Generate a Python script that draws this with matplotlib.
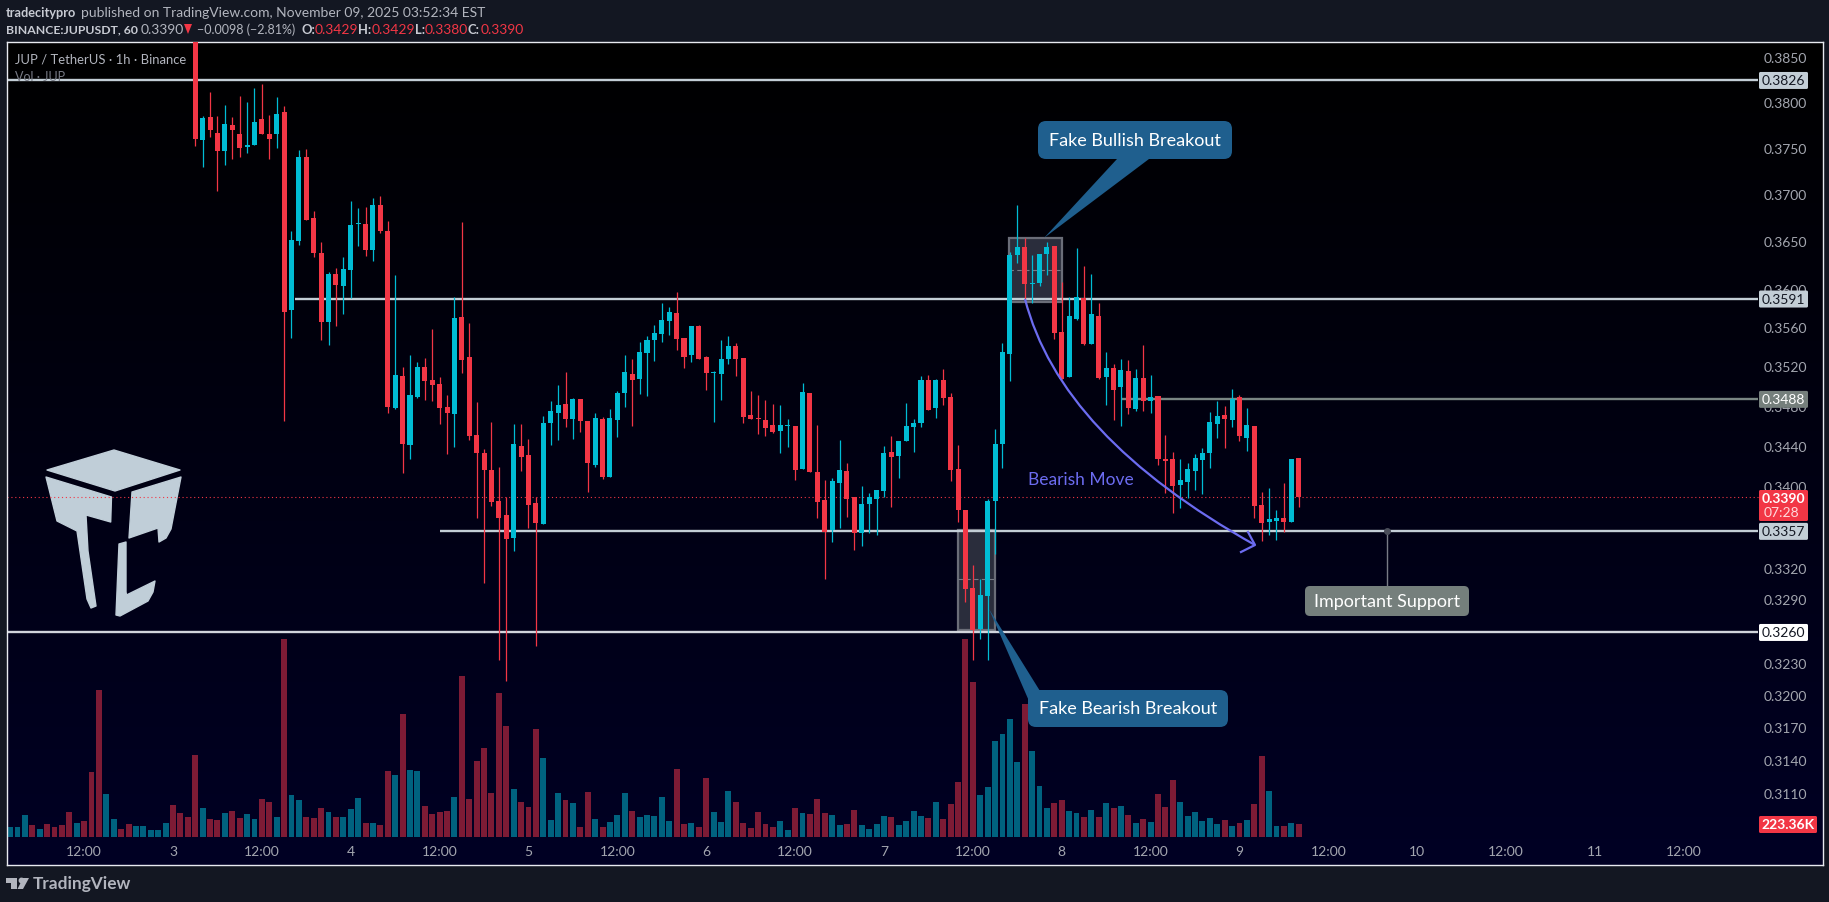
# filename: jup_chart.py
import numpy as np
import matplotlib
matplotlib.use("Agg")
import matplotlib.pyplot as plt
from matplotlib.colors import LinearSegmentedColormap
from matplotlib.patches import FancyBboxPatch, PathPatch, Polygon, Rectangle
from matplotlib.path import Path
from matplotlib.ticker import NullLocator

plt.rcParams['font.family'] = ['Lato', 'DejaVu Sans']

# candles, hourly, hour 0 is Nov 3 00:00
first_candle = 3
opens = [
    .3900, .3760, .3785, .3768, .3748, .3776, .3767, .3752, .3755, .3783,
    .3766, .3767, .3791, .3579, .3651, .3741, .3676, .3639, .3567, .3617,
    .3604, .3621, .3669, .3669, .3642, .3690, .3662, .3479, .3511, .3442,
    .3490, .3520, .3507, .3503, .3480, .3473, .3572, .3531, .3452, .3434,
    .3417, .3386, .3372, .3350, .3441, .3432, .3384, .3364, .3464, .3474,
    .3483, .3468, .3488, .3466, .3422, .3468, .3410, .3467, .3494, .3513,
    .3508, .3535, .3548, .3554, .3568, .3576, .3550, .3533, .3563, .3531,
    .3514, .3513, .3529, .3542, .3530, .3472, .3469, .3467, .3462, .3456,
    .3461, .3461, .3418, .3494, .3415, .3387, .3358, .3404, .3416, .3390,
    .3355, .3383, .3388, .3396, .3435, .3431, .3446, .3460, .3464, .3507,
    .3479, .3507, .3490, .3418, .3377, .3302, .3263, .3294, .3386, .3443,
    .3534, .3637, .3645, .3606, .3607, .3638, .3646, .3556, .3510, .3570,
    .3592, .3544, .3573, .3510, .3519, .3500, .3516, .3478, .3509, .3486,
    .3491, .3428, .3428, .3402, .3405, .3416, .3427, .3434, .3463, .3472,
    .3467, .3490, .3449, .3461, .3382, .3366, .3367, .3370, .3366, .3429,
]
highs = [
    .3900, .3786, .3813, .3786, .3798, .3785, .3808, .3802, .3817, .3822,
    .3787, .3807, .3797, .3662, .3749, .3750, .3683, .3650, .3619, .3623,
    .3635, .3694, .3687, .3688, .3697, .3699, .3673, .3616, .3520, .3533,
    .3525, .3530, .3559, .3510, .3492, .3593, .3672, .3566, .3485, .3438,
    .3465, .3420, .3390, .3463, .3463, .3448, .3390, .3471, .3486, .3502,
    .3515, .3489, .3488, .3466, .3474, .3470, .3478, .3496, .3533, .3529,
    .3546, .3552, .3564, .3586, .3582, .3598, .3550, .3563, .3564, .3532,
    .3516, .3548, .3552, .3545, .3530, .3496, .3492, .3487, .3483, .3482,
    .3468, .3461, .3504, .3494, .3462, .3407, .3409, .3447, .3424, .3390,
    .3401, .3394, .3397, .3441, .3451, .3446, .3484, .3468, .3511, .3512,
    .3508, .3518, .3494, .3442, .3377, .3324, .3310, .3388, .3458, .3545,
    .3640, .3690, .3655, .3637, .3638, .3650, .3646, .3608, .3593, .3644,
    .3625, .3617, .3586, .3536, .3523, .3529, .3528, .3518, .3543, .3512,
    .3491, .3452, .3435, .3428, .3424, .3433, .3439, .3475, .3486, .3481,
    .3498, .3492, .3479, .3461, .3395, .3399, .3377, .3404, .3428, .3429,
]
lows = [
    .3753, .3731, .3763, .3705, .3733, .3739, .3742, .3746, .3755, .3766,
    .3739, .3751, .3466, .3550, .3647, .3674, .3634, .3548, .3543, .3562,
    .3575, .3592, .3646, .3636, .3630, .3660, .3474, .3478, .3414, .3428,
    .3489, .3487, .3486, .3463, .3433, .3440, .3514, .3447, .3370, .3307,
    .3381, .3234, .3214, .3337, .3416, .3360, .3247, .3364, .3442, .3447,
    .3460, .3448, .3455, .3395, .3420, .3408, .3410, .3450, .3480, .3461,
    .3493, .3491, .3527, .3546, .3553, .3538, .3519, .3526, .3529, .3497,
    .3465, .3487, .3523, .3511, .3464, .3468, .3453, .3451, .3454, .3434,
    .3440, .3407, .3418, .3415, .3370, .3310, .3346, .3360, .3371, .3338,
    .3342, .3355, .3353, .3390, .3380, .3409, .3446, .3435, .3460, .3477,
    .3469, .3482, .3406, .3366, .3288, .3234, .3253, .3234, .3335, .3419,
    .3506, .3628, .3591, .3586, .3604, .3616, .3549, .3508, .3510, .3569,
    .3543, .3544, .3508, .3482, .3467, .3461, .3473, .3476, .3476, .3474,
    .3422, .3394, .3374, .3379, .3389, .3397, .3393, .3419, .3449, .3439,
    .3460, .3446, .3436, .3370, .3347, .3353, .3348, .3356, .3366, .3380,
]
closes = [
    .3761, .3784, .3771, .3748, .3777, .3771, .3751, .3755, .3780, .3766,
    .3761, .3788, .3577, .3653, .3742, .3674, .3639, .3567, .3617, .3605,
    .3622, .3668, .3670, .3642, .3690, .3662, .3480, .3512, .3443, .3492,
    .3520, .3506, .3502, .3479, .3474, .3571, .3528, .3451, .3434, .3417,
    .3385, .3370, .3349, .3443, .3430, .3382, .3365, .3464, .3476, .3482,
    .3468, .3488, .3466, .3424, .3469, .3410, .3469, .3494, .3515, .3507,
    .3536, .3548, .3555, .3569, .3577, .3549, .3531, .3563, .3529, .3514,
    .3515, .3529, .3542, .3529, .3470, .3468, .3468, .3459, .3455, .3462,
    .3462, .3417, .3495, .3415, .3385, .3356, .3406, .3417, .3388, .3355,
    .3383, .3390, .3397, .3434, .3430, .3446, .3461, .3464, .3507, .3477,
    .3507, .3489, .3417, .3377, .3301, .3262, .3295, .3386, .3443, .3536,
    .3637, .3645, .3606, .3607, .3638, .3645, .3555, .3508, .3573, .3593,
    .3544, .3575, .3509, .3519, .3497, .3517, .3479, .3509, .3486, .3490,
    .3428, .3426, .3401, .3407, .3418, .3429, .3434, .3465, .3471, .3468,
    .3488, .3451, .3462, .3381, .3365, .3369, .3370, .3366, .3428, .3390,
]

# volume in thousands, first bar is hour -22
first_volume = -22
volumes = [
    166, 166, 372, 200, 132, 218, 166, 200, 424, 235,
    269, 1112, 2521, 733, 304, 132, 218, 183, 183, 115,
    115, 235, 544, 407, 338, 1404, 493, 304, 287, 407,
    441, 321, 390, 304, 647, 596, 338, 3398, 716, 630,
    338, 321, 493, 424, 338, 338, 476, 665, 235, 235,
    200, 1129, 1060, 2109, 1146, 1129, 527, 390, 424, 441,
    682, 2762, 647, 1301, 1524, 751, 2470, 1902, 819, 596,
    510, 1851, 1352, 287, 751, 630, 579, 166, 768, 304,
    166, 252, 372, 751, 441, 338, 372, 355, 682, 269,
    1163, 218, 235, 166, 1008, 424, 252, 785, 596, 235,
    149, 424, 218, 166, 269, 115, 493, 407, 390, 647,
    407, 372, 200, 218, 458, 200, 132, 218, 355, 338,
    200, 269, 441, 355, 321, 596, 304, 562, 940, 3398,
    2659, 716, 854, 1645, 1765, 2023, 1284, 2281, 1473, 871,
    493, 579, 630, 441, 407, 338, 458, 338, 579, 493,
    527, 372, 235, 304, 252, 733, 510, 974, 596, 355,
    424, 269, 321, 218, 287, 183, 235, 287, 562, 1387,
    785, 183, 183, 235, 223.36,
]
# direction of the bars left of the first visible candle
early_volume_up = [
    1, 1, 1, 0, 1, 0, 0, 0, 0, 1, 0, 0, 0,
    1, 1, 0, 0, 1, 1, 1, 1, 1, 0, 0, 0,
]

# the 0.3600 and 0.3480 ticks sit partly under the tags, the tags are drawn later
price_ticks = [.3850, .3800, .3750, .3700, .3650, .3600, .3560, .3520, .3480, .3440,
               .3400, .3320, .3290, .3230, .3200, .3170, .3140, .3110]
time_ticks = [-12, 0, 12, 24, 36, 48, 60, 72, 84, 96, 108, 120, 132, 144, 156, 168, 180, 192, 204]
time_labels = ['12:00', '3', '12:00', '4', '12:00', '5', '12:00', '6', '12:00', '7',
               '12:00', '8', '12:00', '9', '12:00', '10', '12:00', '11', '12:00']

level_prices = [.3826, .3591, .3488, .3357, .3260]
level_starts = [-23, 16.5, 128, 36, -23]
level_colors = ['#c3ced6', '#c3ced6', '#7a8683', '#c3ced6', '#d1d4dc']
label_faces = ['#c3ced6', '#c3ced6', '#757f7c', '#c3ced6', '#ffffff']
label_texts = ['#131722', '#131722', '#ffffff', '#131722', '#131722']
last_price = .3390

RED = '#f23645'
CYAN = '#00bcd4'
GREY_TEXT = '#a3a6af'

# pane in pixels, and the px per hour of the time axis
left, right, top, bottom = 6.5, 1822.5, 43, 866
px_per_hour = 7.406
x_zero = 173
y_385 = 59.4  # pixel row of price 0.3850
levels_end = (1757.6 - x_zero) / px_per_hour

fig = plt.figure(figsize=(18.29, 9.03), dpi=100, facecolor='#131722')
pane = [left / 1829, 1 - bottom / 903, (right - left) / 1829, (bottom - top) / 903]

# background gradient and logo
ax_bg = fig.add_axes([0, 0, 1, 1], zorder=0)
ax_bg.set_xlim(0, 1829)
ax_bg.set_ylim(903, 0)
ax_bg.axis('off')
cmap = LinearSegmentedColormap.from_list('pane', ['#000000', '#000024'])
ax_bg.imshow(np.linspace(0, 1, 256).reshape(-1, 1), cmap=cmap, aspect='auto',
             extent=(left, right, bottom, top))
ax_bg.set_xlim(0, 1829)
ax_bg.set_ylim(903, 0)
logo = '#c0ced8'
ax_bg.add_patch(Polygon([(47, 471), (114, 451), (180, 471), (115, 492)], fc=logo, ec=logo, lw=1, joinstyle='round'))
ax_bg.add_patch(Polygon([(46, 478), (111.5, 498), (110.7, 523), (86, 516), (88, 552), (96, 607), (91, 609),
                         (87, 600), (77, 532), (57, 522)], fc=logo, ec=logo, lw=1, joinstyle='round'))
ax_bg.add_patch(Polygon([(181, 478), (132, 493), (129, 539), (158, 529), (159, 543), (166, 539), (171, 530)],
                        fc=logo, ec=logo, lw=1, joinstyle='round'))
ax_bg.add_patch(Polygon([(126, 543), (119, 545), (116, 616), (120, 617), (148, 602), (153, 593), (155, 582),
                         (126.5, 596), (126, 593)], fc=logo, ec=logo, lw=1, joinstyle='round'))

# volume
ax_vol = fig.add_axes(pane, zorder=1)
ax_vol.patch.set_visible(False)
ax_vol.axis('off')
k_per_px = 17.2
ax_vol.set_ylim(-(bottom - 838) * k_per_px, (838 - top) * k_per_px)
ax_vol.set_xlim((left - x_zero) / px_per_hour, (right - x_zero) / px_per_hour)
vol_hours = first_volume + np.arange(len(volumes))
candle_up = [c >= o for o, c in zip(opens, closes)]
vol_up = [bool(v) for v in early_volume_up] + candle_up
vol_colors = ['#00627f' if u else '#7d1b35' for u in vol_up]
ax_vol.bar(vol_hours, volumes, width=0.8, color=vol_colors, linewidth=0)

# price pane
ax = fig.add_axes(pane, zorder=2)
ax.patch.set_visible(False)
ax.set_yscale('log')
ax.set_xlim((left - x_zero) / px_per_hour, (right - x_zero) / px_per_hour)
ax.set_ylim(.385 * np.exp(-(bottom - y_385) / 3448), .385 * np.exp((y_385 - top) / 3448))
ax.yaxis.set_major_locator(NullLocator())
ax.yaxis.set_minor_locator(NullLocator())
ax.set_xticks([])
for s in ax.spines.values():
    s.set_color('#e8eaf0')
    s.set_linewidth(1)

# marked boxes go under the candles
for t0, t1, p0, p1 in [(112.9, 120, .3587, .3655), (106, 111, .3262, .3358)]:
    ax.add_patch(Rectangle((t0, p0), t1 - t0, p1 - p0, fc='#2a2d3c', ec='#6a6d78', lw=1.6, zorder=1))
    mid = (p0 + p1) / 2
    ax.hlines(mid, t0, t1, color='#787b86', lw=0.8, linestyles=(0, (4, 3)), zorder=1.5)

ax.hlines(level_prices, level_starts, levels_end, colors=level_colors, lw=1.7, zorder=2)
ax.hlines(last_price, ax.get_xlim()[0], levels_end, colors=RED, lw=0.8, linestyles=(0, (1, 2.5)), zorder=2)

# candles
hours = first_candle + np.arange(len(opens))
colors = [CYAN if u else RED for u in candle_up]
ax.vlines(hours, lows, highs, colors=colors, lw=0.9, zorder=3)
body_low = np.minimum(opens, closes)
body_high = np.maximum(opens, closes)
ax.bar(hours, body_high - body_low, bottom=body_low, width=0.68, color=colors, linewidth=0, zorder=4)

# price scale
ymap = ax.get_yaxis_transform()
xmap = ax.get_xaxis_transform()
label_x = (1785 - left) / (right - left)
for p in price_ticks:
    ax.text(label_x, p, f'{p:.4f}', transform=ymap, color=GREY_TEXT, fontsize=10, ha='center', va='center', zorder=5)


def price_box(price, text, face, color):
    """ Filled tag on the price scale, level with its line """
    height = 17
    y_px = y_385 + 3448 * np.log(.385 / price)
    y0 = y_px + 0.5 - height / 2
    ax_over.add_patch(FancyBboxPatch((1759, y0), 49, height, boxstyle='round,pad=0,rounding_size=1.5',
                                     fc=face, ec='none', zorder=6))
    ax_over.text(1783.5, y0 + 8.5, text, color=color, fontsize=10, ha='center', va='center', zorder=7)


for t, lab in zip(time_ticks, time_labels):
    ax.text(t, (bottom - 851.7) / (bottom - top), lab, transform=xmap, color=GREY_TEXT, fontsize=10,
            ha='center', va='center', zorder=5)

# overlay in pixels, for the drawings and the texts around the pane
ax_over = fig.add_axes([0, 0, 1, 1], zorder=3)
ax_over.set_xlim(0, 1829)
ax_over.set_ylim(903, 0)
ax_over.axis('off')

for price, face, color in zip(level_prices, label_faces, label_texts):
    price_box(price, f'{price:.4f}', face, color)
ax_over.add_patch(FancyBboxPatch((1759, 491), 49, 31, boxstyle='round,pad=0,rounding_size=1.5', fc=RED, ec='none', zorder=6))
ax_over.text(1783.5, 499.5, f'{last_price:.4f}', color='white', fontsize=10, ha='center', va='center', weight='bold', zorder=7)
ax_over.text(1781, 513.5, '07:28', color='#ffd9dc', fontsize=10, ha='center', va='center', zorder=7)
ax_over.add_patch(FancyBboxPatch((1759, 817), 58, 17, boxstyle='round,pad=0,rounding_size=1.5', fc=RED, ec='none', zorder=6))
ax_over.text(1788, 825.5, '223.36K', color='white', fontsize=10, ha='center', va='center', weight='bold', zorder=7)

# header
hdr = '#b2b5be'
hdr_size = 10
ax_over.text(6, 13, 'tradecitypro', color='#c8cbd3', fontsize=9.2, weight='bold', va='center')
ax_over.text(81, 13, 'published on TradingView.com, November 09, 2025 03:52:34 EST', color=hdr, fontsize=hdr_size, va='center')
ax_over.text(6, 30, 'BINANCE:JUPUSDT, 60', color='#c8cbd3', fontsize=8.8, weight='bold', va='center')
ax_over.text(141, 30, '0.3390', color=hdr, fontsize=hdr_size, va='center')
ax_over.add_patch(Polygon([(184, 25), (192, 25), (188, 35)], fc=RED, ec='none'))
ax_over.text(197, 30, '\u22120.0098 (\u22122.81%)', color=hdr, fontsize=9, va='center')
for x_lab, lab, x_val, val in [(301, 'O:', 315, '0.3429'), (358, 'H:', 372, '0.3429'),
                               (415, 'L:', 425, '0.3380'), (468, 'C:', 481, '0.3390')]:
    ax_over.text(x_lab, 30, lab, color='#c8cbd3', fontsize=9.4, weight='bold', va='center')
    ax_over.text(x_val, 30, val, color=RED, fontsize=hdr_size, va='center')

# legend
ax_over.text(15, 60, 'JUP / TetherUS \u00b7 1h \u00b7 Binance', color='#b2b5be', fontsize=9.4, va='center')
ax_over.text(15, 77, 'Vol \u00b7 JUP', color='#787b86', fontsize=9, va='center', zorder=0)

# callouts
blue = '#1f5f8e'
ax_over.add_patch(Polygon([(1044, 239), (1117, 160), (1149, 160)], fc=blue, ec='none', zorder=2))
ax_over.add_patch(FancyBboxPatch((1038, 122), 194, 38, boxstyle='round,pad=0,rounding_size=8', fc=blue, ec='none', zorder=3))
ax_over.text(1135, 141, 'Fake Bullish Breakout', color='white', fontsize=13, ha='center', va='center', zorder=4)
ax_over.add_patch(Polygon([(989, 610), (1029, 702), (1040, 692)], fc=blue, ec='none', zorder=2))
ax_over.add_patch(FancyBboxPatch((1028, 691), 200, 37, boxstyle='round,pad=0,rounding_size=8', fc=blue, ec='none', zorder=3))
ax_over.text(1128, 709, 'Fake Bearish Breakout', color='white', fontsize=13, ha='center', va='center', zorder=4)

grey_box = '#757f7c'
ax_over.plot([1387, 1387], [532, 587], color='#787b86', lw=1)
ax_over.plot([1387], [531.5], 'o', ms=4, color='#4a4e5a')
ax_over.add_patch(FancyBboxPatch((1305, 587), 164, 30, boxstyle='round,pad=0,rounding_size=5', fc=grey_box, ec='none', zorder=3))
ax_over.text(1387, 602, 'Important Support', color='white', fontsize=13, ha='center', va='center', zorder=4)

# bearish move arc
purple = '#6c6cf0'
ax_over.add_patch(PathPatch(Path([(1025, 300), (1060, 437), (1255, 546)], [Path.MOVETO, Path.CURVE3, Path.CURVE3]),
                            fc='none', ec=purple, lw=1.6, zorder=2))
ax_over.plot([1248, 1255, 1241], [533, 546, 553], color=purple, lw=1.6, zorder=2)
ax_over.text(1081, 480, 'Bearish Move', color=purple, fontsize=12.5, ha='center', va='center', zorder=2)

# TradingView mark
tv = '#b2b5be'
ax_over.add_patch(Polygon([(6, 879), (17, 879), (17, 890), (11, 890), (11, 884), (6, 884)], fc=tv, ec='none'))
ax_over.plot([20.5], [881.3], 'o', ms=3.2, color=tv)
ax_over.add_patch(Polygon([(23, 879), (29, 879), (23, 890), (17.5, 890)], fc=tv, ec='none'))
ax_over.text(33, 884.5, 'TradingView', color=tv, fontsize=12.4, weight='bold', va='center')

fig.savefig('out.png', dpi=100, facecolor=fig.get_facecolor())
